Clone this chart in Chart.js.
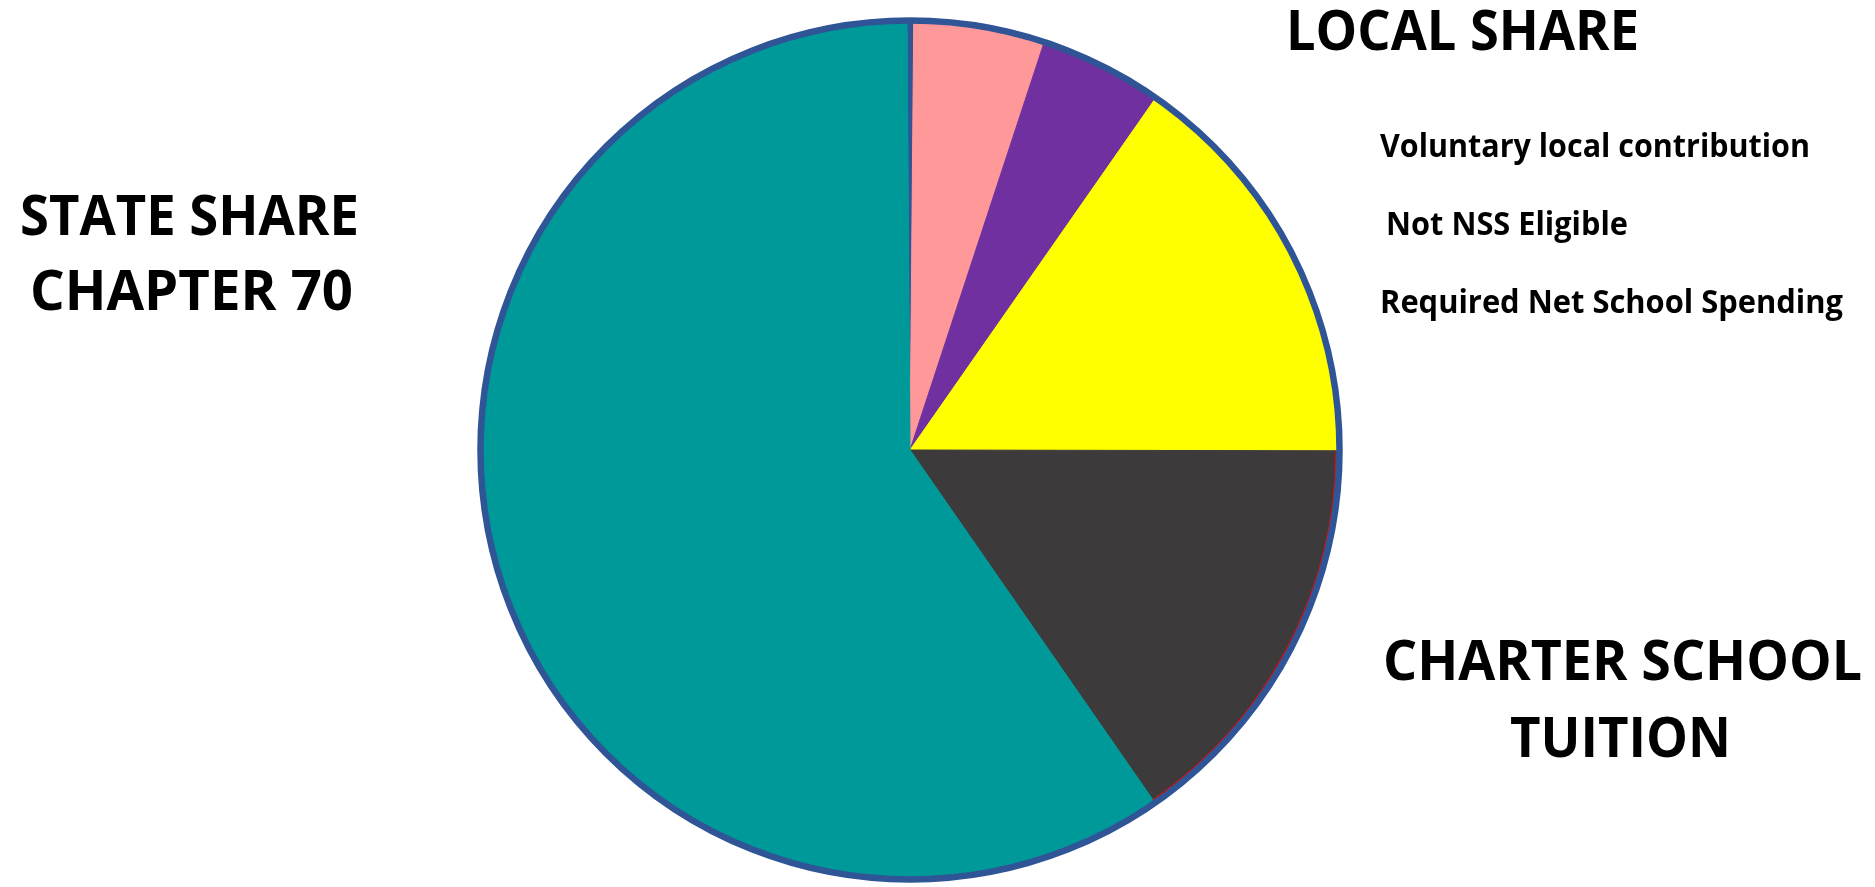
<!DOCTYPE html>
<html>
<head>
<meta charset="utf-8">
<title>State and local share</title>
<script src="https://cdn.jsdelivr.net/npm/chart.js@4.4.1/dist/chart.umd.min.js"></script>
<style>
    html, body { margin: 0; padding: 0; background: #ffffff; }
    #wrap { position: relative; width: 1875px; height: 887px; }
</style>
</head>
<body>
<div id="wrap"><canvas id="pieChart"></canvas></div>
<script>
/* slices, clockwise from 12 o'clock */
var categories = ['Other', 'Voluntary local contribution', 'Not NSS Eligible',
                  'Required Net School Spending', 'CHARTER SCHOOL TUITION', 'STATE SHARE CHAPTER 70'];
var shares     = [0.25, 4.92, 4.64, 15.33, 15.31, 59.55];
var colors     = ['#2F5597', '#FF9999', '#7030A0', '#FFFF00', '#3C3A3B', '#009999'];

/* text round the pie */
var headLabels  = ['LOCAL SHARE', 'STATE SHARE', 'CHAPTER 70', 'CHARTER SCHOOL', 'TUITION'];
var smallLabels = ['Voluntary local contribution', 'Not NSS Eligible', 'Required Net School Spending'];

var FONT = '"Open Sans", Lato, sans-serif';

/* draw text squeezed/stretched to a given width */
function fitText(ctx, text, x, y, width, size) {
    ctx.font = 'bold ' + size + 'px ' + FONT;
    var w = ctx.measureText(text).width;
    ctx.save();
    ctx.translate(x, y);
    ctx.scale(width / w, 1);
    ctx.fillText(text, 0, 0);
    ctx.restore();
}

var ringPlugin = {
    id: 'ring',
    afterDatasetsDraw: function (chart) {
        var ctx  = chart.ctx;
        var meta = chart.getDatasetMeta(0);
        var a0   = meta.data[0];
        var cx = a0.x, cy = a0.y, r = a0.outerRadius;

        /* thin red edge on the charter slice */
        var g = meta.data[4];
        ctx.save();
        ctx.strokeStyle = '#D01010';
        ctx.lineWidth = 1.5;
        ctx.beginPath();
        ctx.arc(cx, cy, r - 1.5, g.startAngle, g.endAngle);
        ctx.stroke();

        /* blue outline round the whole pie */
        ctx.strokeStyle = '#2F5597';
        ctx.lineWidth = 6.5;
        ctx.beginPath();
        ctx.arc(cx, cy, r + 2, 0, Math.PI * 2);
        ctx.stroke();
        ctx.restore();
    },
    afterDraw: function (chart) {
        var ctx = chart.ctx;
        ctx.save();
        ctx.fillStyle = '#000000';
        ctx.textBaseline = 'alphabetic';
        ctx.textAlign = 'left';

        fitText(ctx, headLabels[0], 1286, 50, 353, 56);
        fitText(ctx, headLabels[1], 20, 235, 339, 56);
        fitText(ctx, headLabels[2], 30, 310, 323, 56);
        fitText(ctx, headLabels[3], 1383, 680, 479, 56);
        fitText(ctx, headLabels[4], 1510, 757, 221, 56);

        fitText(ctx, smallLabels[0], 1380, 157, 430, 33);
        fitText(ctx, smallLabels[1], 1386, 235, 242, 33);
        fitText(ctx, smallLabels[2], 1380, 313, 463, 33);
        ctx.restore();
    }
};

function drawPie() {
    var canvas = document.getElementById('pieChart');
    new Chart(canvas.getContext('2d'), {
        type: 'pie',
        data: {
            labels: categories,
            datasets: [{
                data: shares,
                backgroundColor: colors,
                borderColor: colors,
                borderWidth: 1
            }]
        },
        options: {
            responsive: true,
            maintainAspectRatio: false,
            animation: false,
            rotation: -0.4,
            layout: { padding: { left: 481, right: 536, top: 22, bottom: 9 } },
            plugins: {
                legend:  { display: false },
                tooltip: { enabled: false }
            }
        },
        plugins: [ringPlugin]
    });
}

document.addEventListener('DOMContentLoaded', drawPie);
</script>
</body>
</html>
